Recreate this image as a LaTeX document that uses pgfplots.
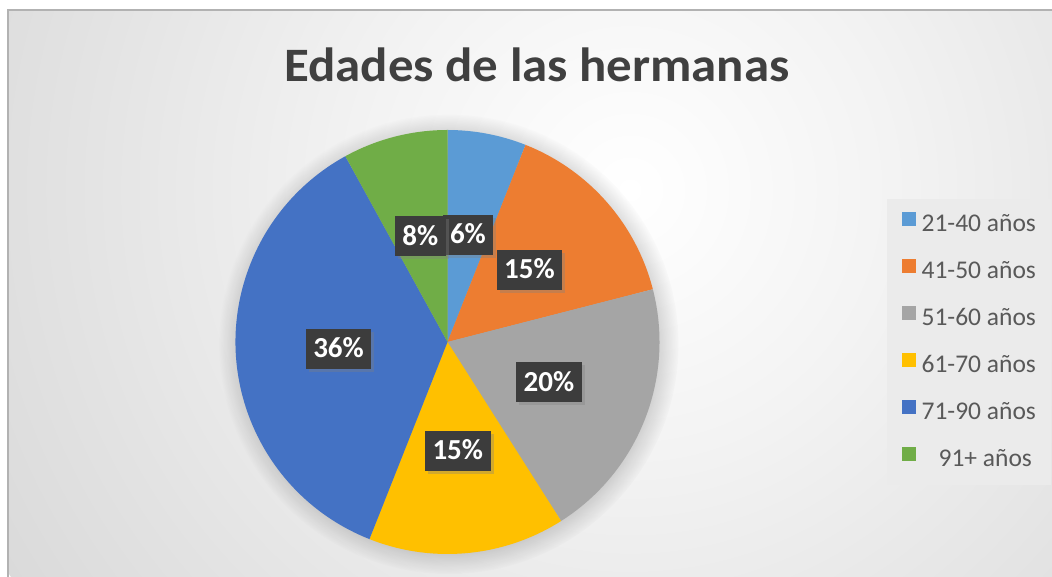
\documentclass[border=0pt]{standalone}
\usepackage{fontspec}
\setmainfont{Carlito}
\usepackage{pgfplots}
\usepackage{pgfplotstable}
\pgfplotsset{compat=1.18}
\usetikzlibrary{shadows,fadings}

\definecolor{c0}{HTML}{5B9BD5}
\definecolor{c1}{HTML}{ED7D31}
\definecolor{c2}{HTML}{A5A5A5}
\definecolor{c3}{HTML}{FFC000}
\definecolor{c4}{HTML}{4472C4}
\definecolor{c5}{HTML}{70AD47}
\definecolor{titlegray}{HTML}{404040}
\definecolor{leggray}{HTML}{595959}
\definecolor{lblgray}{HTML}{3C3C3C}
\definecolor{legfill}{HTML}{EBEBEB}
\definecolor{bg1}{HTML}{F3F3F3}
\definecolor{bg2}{HTML}{E3E3E3}
\definecolor{bg3}{HTML}{D4D4D4}
\definecolor{bg4}{HTML}{C7C7C7}
\definecolor{bg5}{HTML}{C1C1C1}
\pgfdeclareradialshading{bgshade}{\pgfpoint{0bp}{0bp}}{%
  color(0bp)=(white); color(9bp)=(bg1); color(19bp)=(bg2);
  color(29bp)=(bg3); color(42bp)=(bg4); color(50bp)=(bg5)}

% percentages of each age group (clockwise from 12 o'clock)
\pgfplotstableread{
pct
6
15
20
15
36
8
}\agedata

\tikzset{lbl/.style={fill=lblgray, text=white,
  font=\bfseries\fontsize{29}{32}\selectfont,
  inner xsep=7.5pt, inner ysep=11pt, text height=18pt, text depth=0pt,
  drop shadow={shadow xshift=3pt, shadow yshift=-3pt, opacity=0.35}}}

\begin{document}
\begin{tikzpicture}[x=1pt,y=1pt]
\useasboundingbox (0,0) rectangle (1052,577);
\begin{scope}
\clip (8,0) rectangle (1052,567);
\shade[shading=bgshade] (630,387) circle (730);
\end{scope}
\draw[gray!60, line width=1.2pt] (8,0) -- (8,567) -- (1052,567);
\node[anchor=base, font=\bfseries\fontsize{48}{56}\selectfont, text=titlegray] at (537,495) {\scalebox{1.06}[1]{Edades de las hermanas}};
\fill[black, opacity=0.3, path fading=circle with fuzzy edge 20 percent] (449,233) circle (230);

\begin{axis}[at={(447.5pt,235pt)}, anchor=center, scale only axis,
  width=424pt, height=424pt, xmin=-1, xmax=1, ymin=-1, ymax=1,
  hide axis, clip=false,
  legend cell align=left,
  legend image code/.code={\fill[#1] (0pt,0.5pt) rectangle (13pt,13.5pt);},
  legend style={at={(1.5366,0.8373)}, anchor=north west, draw=none, fill=legfill,
    inner xsep=15pt, inner ysep=13pt, row sep=21.2pt, column sep=6pt,
    font=\fontsize{25.5}{30}\selectfont, text=leggray,
    nodes={inner sep=0pt, text height=18pt, text depth=6pt}},
]
\addlegendimage{c0}
\addlegendimage{c1}
\addlegendimage{c2}
\addlegendimage{c3}
\addlegendimage{c4}
\addlegendimage{c5}
\legend{21-40 años, 41-50 años, 51-60 años, 61-70 años, 71-90 años, \hspace*{17pt}91+ años}

\xdef\cum{0}
\pgfplotsforeachungrouped \i in {0,...,5}{%
  \pgfplotstablegetelem{\i}{pct}\of\agedata
  \let\p\pgfplotsretval
  \pgfmathsetmacro\sa{90-3.6*\cum}
  \pgfmathsetmacro\ea{90-3.6*(\cum+\p)}
  \pgfmathsetmacro\xs{cos(\sa)}
  \pgfmathsetmacro\ys{sin(\sa)}
  \edef\temp{\noexpand\fill[c\i] (axis cs:0,0) -- (axis cs:\xs,\ys) arc[start angle=\sa, end angle=\ea, radius=212pt] -- cycle;}
  \temp
  \pgfmathsetmacro\newcum{\cum+\p}
  \xdef\cum{\newcum}
}
\xdef\cum{0}
\pgfplotsforeachungrouped \i in {0,...,5}{%
  \pgfplotstablegetelem{\i}{pct}\of\agedata
  \let\p\pgfplotsretval
  \pgfmathsetmacro\ma{90-3.6*(\cum+\p/2)}
  \pgfmathsetmacro\lx{0.515*cos(\ma)}
  \pgfmathsetmacro\ly{0.515*sin(\ma)}
  \edef\temp{\noexpand\node[lbl] at (axis cs:\lx,\ly) {\p\noexpand\%};}
  \temp
  \pgfmathsetmacro\newcum{\cum+\p}
  \xdef\cum{\newcum}
}
\end{axis}
\end{tikzpicture}
\end{document}
